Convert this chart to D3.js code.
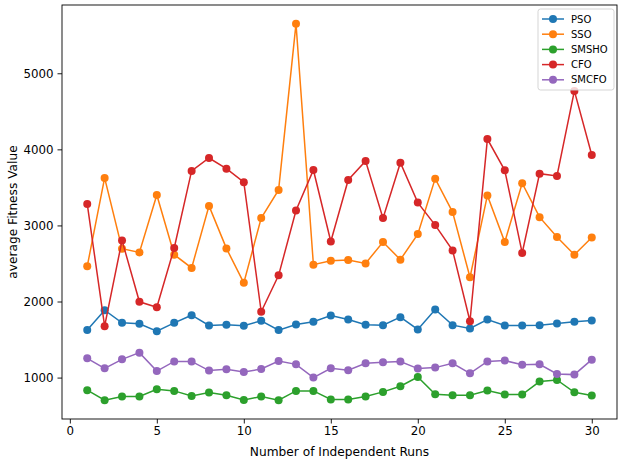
<!DOCTYPE html>
<html>
<head>
<meta charset="utf-8">
<script src="https://cdn.jsdelivr.net/npm/d3@7"></script>
<style>
  body { margin: 0; background: #fff; }
  svg { display: block; font-family: "DejaVu Sans", sans-serif; }
</style>
</head>
<body>
<svg id="chart" width="624" height="462"></svg>
<script>
// Average fitness per independent run, five optimizers.
const runs = d3.range(1, 31);

const pso = [1624, 1886, 1720, 1707, 1610, 1720, 1820, 1685, 1694, 1681,
             1747, 1624, 1698, 1734, 1816, 1764, 1694, 1689, 1794, 1633,
             1895, 1689, 1646, 1764, 1685, 1685, 1689, 1711, 1734, 1751];
const sso = [2462, 3625, 2694, 2645, 3401, 2615, 2441, 3257, 2698, 2245,
             3096, 3467, 5650, 2484, 2537, 2546, 2501, 2782, 2550, 2886,
             3615, 3175, 2318, 3395, 2782, 3555, 3109, 2847, 2615, 2842];
const smsho = [834, 703, 751, 751, 847, 825, 759, 803, 768, 707,
               751, 703, 825, 825, 712, 712, 751, 812, 886, 1008,
               781, 768, 768, 830, 777, 777, 948, 969, 807, 764];
const cfo = [3283, 1676, 2803, 1996, 1925, 2703, 3716, 3886, 3746, 3568,
             1865, 2344, 3196, 3729, 2789, 3598, 3847, 3096, 3824, 3300,
             3004, 2672, 1741, 4135, 3725, 2638, 3680, 3650, 4768, 3925];
const smcfo = [1253, 1122, 1240, 1328, 1086, 1213, 1213, 1092, 1109, 1073,
               1113, 1218, 1174, 1000, 1122, 1096, 1187, 1200, 1210, 1118,
               1131, 1187, 1056, 1212, 1223, 1170, 1174, 1047, 1039, 1236];

const seriesNames = ["PSO", "SSO", "SMSHO", "CFO", "SMCFO"];
const seriesValues = [pso, sso, smsho, cfo, smcfo];
const colors = ["#1f77b4", "#ff7f0e", "#2ca02c", "#d62728", "#9467bd"];

const xTicks = [0, 5, 10, 15, 20, 25, 30];
const yTicks = [1000, 2000, 3000, 4000, 5000];

const box = { left: 62, right: 617, top: 5, bottom: 419 };
const svg = d3.select("#chart");

// matplotlib-style 5% padding on both axes
function padded(lo, hi) {
  const r = hi - lo;
  return [lo - 0.05 * r, hi + 0.05 * r];
}
const allVals = seriesValues.flat();
const x = d3.scaleLinear().domain(padded(1, 30)).range([box.left, box.right]);
const y = d3.scaleLinear().domain(padded(d3.min(allVals), d3.max(allVals)))
  .range([box.bottom, box.top]);

// axes
const xAxis = svg.append("g")
  .attr("transform", `translate(0,${box.bottom})`)
  .call(d3.axisBottom(x).tickValues(xTicks).tickSize(4.5).tickPadding(3).tickFormat(d3.format("d")));
const yAxis = svg.append("g")
  .attr("transform", `translate(${box.left},0)`)
  .call(d3.axisLeft(y).tickValues(yTicks).tickSize(4.5).tickPadding(4).tickFormat(d3.format("d")));
[xAxis, yAxis].forEach(g => {
  g.select(".domain").remove();
  g.selectAll("line").attr("stroke", "#000").attr("stroke-width", 0.9);
  g.selectAll("text").attr("fill", "#000").style("font-size", "11.8px")
    .style("font-family", "DejaVu Sans");
});

// series
const line = d3.line().x((d, i) => x(runs[i])).y(d => y(d));
seriesValues.forEach((vals, s) => {
  const g = svg.append("g");
  g.append("path").datum(vals)
    .attr("d", line).attr("fill", "none")
    .attr("stroke", colors[s]).attr("stroke-width", 1.5);
  g.selectAll("circle").data(vals).enter().append("circle")
    .attr("cx", (d, i) => x(runs[i])).attr("cy", d => y(d))
    .attr("r", 4).attr("fill", colors[s]);
});

// frame
svg.append("rect")
  .attr("x", box.left).attr("y", box.top)
  .attr("width", box.right - box.left).attr("height", box.bottom - box.top)
  .attr("fill", "none").attr("stroke", "#000").attr("stroke-width", 0.9);

// axis titles
svg.append("text")
  .attr("x", (box.left + box.right) / 2).attr("y", 456)
  .attr("text-anchor", "middle").style("font-size", "12.2px")
  .text("Number of Independent Runs");
svg.append("text")
  .attr("transform", `translate(17,${(box.top + box.bottom) / 2}) rotate(-90)`)
  .attr("text-anchor", "middle").style("font-size", "12.2px")
  .text("average Fitness Value");

// legend
const leg = svg.append("g").attr("transform", "translate(538,9)");
leg.append("rect")
  .attr("width", 76).attr("height", 81).attr("rx", 2.5)
  .attr("fill", "#fff").attr("fill-opacity", 0.8)
  .attr("stroke", "#d0d0d0").attr("stroke-width", 0.9);
seriesNames.forEach((name, s) => {
  const row = leg.append("g").attr("transform", `translate(0,${10 + s * 15.2})`);
  row.append("line").attr("x1", 4).attr("x2", 26)
    .attr("stroke", colors[s]).attr("stroke-width", 1.5);
  row.append("circle").attr("cx", 15).attr("r", 4).attr("fill", colors[s]);
  row.append("text").attr("x", 33).attr("y", 3.6)
    .style("font-size", "10px").text(name);
});
</script>
</body>
</html>
